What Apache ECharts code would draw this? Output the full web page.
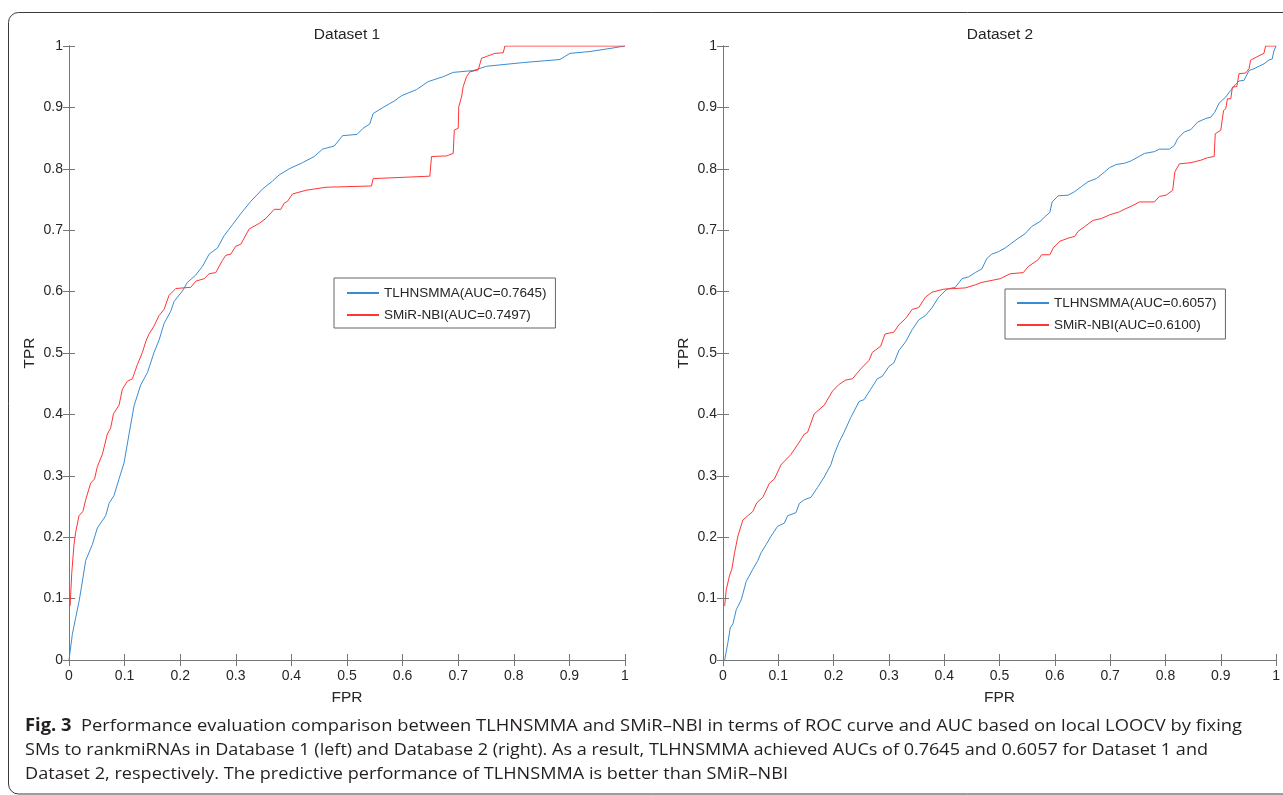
<!DOCTYPE html>
<html>
<head>
<meta charset="utf-8">
<style>
  html, body { margin: 0; padding: 0; background: #fff; }
  #chart { width: 1283px; height: 795px; }
</style>
<script src="https://cdn.jsdelivr.net/npm/echarts@6/dist/echarts.min.js"></script>
</head>
<body>
<div id="chart"></div>
<script>
// ROC points, [FPR, TPR]
const ds1Tlhnsmma = [[0,0],[0.006,0.042],[0.012,0.069],[0.018,0.095],[0.023,0.122],[0.03,0.162],[0.042,0.188],[0.051,0.215],[0.066,0.235],[0.072,0.255],[0.081,0.268],[0.09,0.295],[0.099,0.321],[0.108,0.368],[0.117,0.414],[0.129,0.448],[0.141,0.468],[0.153,0.501],[0.162,0.521],[0.171,0.548],[0.183,0.568],[0.189,0.584],[0.204,0.601],[0.213,0.615],[0.228,0.627],[0.24,0.641],[0.252,0.661],[0.267,0.671],[0.279,0.691],[0.294,0.709],[0.309,0.727],[0.327,0.747],[0.348,0.767],[0.366,0.78],[0.378,0.79],[0.396,0.8],[0.42,0.81],[0.441,0.82],[0.456,0.832],[0.477,0.837],[0.492,0.854],[0.518,0.856],[0.529,0.866],[0.541,0.873],[0.547,0.89],[0.565,0.9],[0.586,0.911],[0.598,0.919],[0.625,0.929],[0.646,0.942],[0.673,0.95],[0.691,0.957],[0.727,0.96],[0.751,0.967],[0.817,0.973],[0.883,0.978],[0.901,0.988],[0.937,0.991],[0.973,0.996],[1,1]];
const ds1SmirNbi = [[0.002,0.088],[0.005,0.142],[0.009,0.188],[0.012,0.208],[0.018,0.235],[0.025,0.242],[0.03,0.261],[0.039,0.288],[0.046,0.295],[0.051,0.315],[0.06,0.335],[0.069,0.368],[0.075,0.378],[0.08,0.401],[0.09,0.415],[0.096,0.441],[0.105,0.454],[0.114,0.458],[0.123,0.481],[0.132,0.501],[0.139,0.521],[0.144,0.531],[0.153,0.544],[0.162,0.561],[0.171,0.571],[0.18,0.594],[0.192,0.605],[0.219,0.607],[0.228,0.617],[0.243,0.621],[0.252,0.629],[0.264,0.631],[0.276,0.651],[0.282,0.659],[0.291,0.661],[0.3,0.674],[0.309,0.677],[0.324,0.702],[0.342,0.711],[0.354,0.719],[0.369,0.734],[0.381,0.734],[0.387,0.744],[0.393,0.747],[0.402,0.759],[0.426,0.765],[0.462,0.77],[0.544,0.772],[0.547,0.784],[0.649,0.788],[0.652,0.82],[0.679,0.821],[0.691,0.825],[0.693,0.863],[0.7,0.866],[0.701,0.901],[0.706,0.917],[0.709,0.934],[0.715,0.95],[0.721,0.958],[0.736,0.961],[0.742,0.98],[0.751,0.983],[0.766,0.988],[0.781,0.989],[0.784,1],[1,1]];
const ds2Tlhnsmma = [[0.003,0],[0.009,0.029],[0.013,0.052],[0.018,0.059],[0.024,0.082],[0.033,0.098],[0.042,0.128],[0.054,0.148],[0.063,0.162],[0.069,0.175],[0.078,0.188],[0.087,0.202],[0.099,0.218],[0.111,0.223],[0.117,0.235],[0.132,0.24],[0.138,0.255],[0.147,0.261],[0.159,0.265],[0.171,0.281],[0.183,0.298],[0.195,0.318],[0.201,0.335],[0.21,0.355],[0.219,0.371],[0.231,0.395],[0.246,0.421],[0.255,0.424],[0.267,0.441],[0.279,0.458],[0.288,0.462],[0.3,0.478],[0.309,0.484],[0.318,0.504],[0.33,0.518],[0.342,0.538],[0.354,0.554],[0.366,0.561],[0.378,0.574],[0.39,0.591],[0.405,0.604],[0.42,0.607],[0.432,0.621],[0.444,0.624],[0.456,0.631],[0.468,0.637],[0.477,0.654],[0.486,0.661],[0.498,0.665],[0.51,0.671],[0.522,0.679],[0.534,0.687],[0.546,0.694],[0.558,0.706],[0.573,0.714],[0.582,0.722],[0.591,0.729],[0.595,0.746],[0.606,0.756],[0.624,0.757],[0.636,0.763],[0.648,0.771],[0.66,0.779],[0.675,0.784],[0.69,0.795],[0.699,0.802],[0.711,0.807],[0.726,0.809],[0.738,0.813],[0.75,0.819],[0.762,0.825],[0.78,0.828],[0.789,0.832],[0.807,0.832],[0.816,0.838],[0.822,0.849],[0.834,0.86],[0.846,0.864],[0.858,0.876],[0.873,0.882],[0.882,0.884],[0.889,0.892],[0.897,0.907],[0.909,0.917],[0.918,0.928],[0.927,0.938],[0.933,0.943],[0.942,0.944],[0.951,0.96],[0.96,0.963],[0.978,0.971],[0.987,0.977],[0.993,0.979],[0.996,0.992],[1,1]];
const ds2SmirNbi = [[0.003,0.088],[0.006,0.115],[0.012,0.138],[0.016,0.148],[0.021,0.175],[0.027,0.202],[0.036,0.228],[0.045,0.235],[0.054,0.242],[0.061,0.256],[0.072,0.265],[0.084,0.288],[0.093,0.295],[0.105,0.318],[0.123,0.335],[0.138,0.355],[0.147,0.368],[0.153,0.371],[0.165,0.401],[0.183,0.415],[0.198,0.438],[0.21,0.449],[0.222,0.456],[0.234,0.458],[0.249,0.474],[0.264,0.488],[0.27,0.501],[0.285,0.511],[0.293,0.531],[0.309,0.534],[0.318,0.546],[0.33,0.556],[0.342,0.571],[0.354,0.574],[0.366,0.591],[0.378,0.599],[0.399,0.604],[0.438,0.606],[0.456,0.611],[0.468,0.615],[0.501,0.621],[0.519,0.629],[0.543,0.631],[0.552,0.641],[0.57,0.652],[0.576,0.66],[0.591,0.66],[0.597,0.671],[0.609,0.682],[0.624,0.687],[0.636,0.69],[0.642,0.698],[0.654,0.706],[0.669,0.716],[0.684,0.719],[0.699,0.725],[0.717,0.73],[0.723,0.733],[0.738,0.739],[0.753,0.746],[0.78,0.746],[0.789,0.755],[0.801,0.757],[0.813,0.765],[0.817,0.795],[0.825,0.808],[0.846,0.81],[0.864,0.814],[0.876,0.818],[0.888,0.82],[0.89,0.857],[0.9,0.863],[0.905,0.895],[0.909,0.898],[0.912,0.914],[0.918,0.914],[0.921,0.933],[0.929,0.934],[0.933,0.955],[0.945,0.956],[0.951,0.963],[0.954,0.977],[0.969,0.984],[0.978,0.988],[0.981,1],[1,1]];

const panelTitles = ['Dataset 1', 'Dataset 2'];
const legend1 = ['TLHNSMMA(AUC=0.7645)', 'SMiR-NBI(AUC=0.7497)'];
const legend2 = ['TLHNSMMA(AUC=0.6057)', 'SMiR-NBI(AUC=0.6100)'];
const captionBold = 'Fig. 3';
const captionLines = [
  'Performance evaluation comparison between TLHNSMMA and SMiR\u2013NBI in terms of ROC curve and AUC based on local LOOCV by fixing',
  'SMs to rankmiRNAs in Database 1 (left) and Database 2 (right). As a result, TLHNSMMA achieved AUCs of 0.7645 and 0.6057 for Dataset 1 and',
  'Dataset 2, respectively. The predictive performance of TLHNSMMA is better than SMiR\u2013NBI'
];

const BLUE = '#3a8cd2';
const RED = '#ff3535';
const AXIS = '#777';
const TEXT = '#262626';
const PLOT_FONT = '"Liberation Sans", Arial, sans-serif';
const CAP_FONT = '"Open Sans", sans-serif';
const CAP_SIZE = 17;

let $chart = echarts.init(document.getElementById('chart'));

// caption font is condensed in the original, squeeze Open Sans line by line to the same width
const mctx = document.createElement('canvas').getContext('2d');
function measure(text, weight) {
  mctx.font = weight + ' ' + CAP_SIZE + 'px ' + CAP_FONT;
  return mctx.measureText(text).width;
}
const lineScale = [
  (1242 - 81) / measure(captionLines[0], 'normal'),
  (1208 - 25) / measure(captionLines[1], 'normal'),
  (788 - 25) / measure(captionLines[2], 'normal')
];

function mainAxes(gridIndex) {
  const common = {
    gridIndex, min: 0, max: 1, interval: 0.1, type: 'value',
    splitLine: { show: false },
    axisLine: { show: true, lineStyle: { color: AXIS, width: 1 } },
    axisTick: { show: true, inside: true, length: 6, lineStyle: { color: AXIS } },
    nameTextStyle: { fontFamily: PLOT_FONT, fontSize: 15.5, color: TEXT },
    axisLabel: { fontFamily: PLOT_FONT, fontSize: 14, color: TEXT }
  };
  return {
    x: [
      { ...common, position: 'bottom', name: 'FPR', nameLocation: 'middle', nameGap: 30,
        axisLabel: { ...common.axisLabel, margin: 9 } },
      { ...common, position: 'top', axisLabel: { show: false } }
    ],
    y: [
      { ...common, position: 'left', name: 'TPR', nameLocation: 'middle', nameGap: 31,
        axisLabel: { ...common.axisLabel, margin: 6 } },
      { ...common, position: 'right', axisLabel: { show: false } }
    ]
  };
}
const ax1 = mainAxes(0);
const ax2 = mainAxes(1);

function roc(name, data, color, axisIndex) {
  return {
    type: 'line', name, data, xAxisIndex: axisIndex, yAxisIndex: axisIndex,
    symbol: 'none', showSymbol: false, animation: false,
    lineStyle: { color, width: 1 }, itemStyle: { color }
  };
}

// line sample only, hide the marker echarts puts on line legends
function legendBox(names, left, top, padding) {
  return {
    data: names, orient: 'vertical', left, top, padding,
    borderColor: '#666', borderWidth: 1, backgroundColor: '#fff',
    itemWidth: 32, itemHeight: 14, itemGap: 8, selectedMode: false,
    itemStyle: { color: 'rgba(0,0,0,0)', borderColor: 'rgba(0,0,0,0)', borderWidth: 0, opacity: 0 },
    textStyle: { fontFamily: PLOT_FONT, fontSize: 13.5, color: TEXT }
  };
}

function captionText(text, x, y, bold, scale) {
  return {
    type: 'text', x, y, scaleX: scale,
    style: {
      text, fill: '#231f20', align: 'left', verticalAlign: 'middle',
      font: (bold ? 'bold ' : '') + CAP_SIZE + 'px ' + CAP_FONT
    }
  };
}

const option = {
  backgroundColor: '#fff',
  animation: false,
  grid: [
    { left: 69, top: 46, width: 556, height: 614 },
    { left: 723, top: 46, width: 555, height: 614 }
  ],
  xAxis: [...ax1.x, ...ax2.x],
  yAxis: [...ax1.y, ...ax2.y],
  legend: [
    legendBox(legend1, 334, 278, [8, 9, 6, 12]),
    legendBox(legend2, 1005, 289, [7, 9, 7, 11])
  ],
  series: [
    roc(legend1[0], ds1Tlhnsmma, BLUE, 0),
    roc(legend1[1], ds1SmirNbi, RED, 0),
    roc(legend2[0], ds2Tlhnsmma, BLUE, 2),
    roc(legend2[1], ds2SmirNbi, RED, 2)
  ],
  graphic: [
    { type: 'rect', shape: { x: 8.5, y: 12.5, width: 1300, height: 781.5, r: 10 },
      style: { fill: 'none', stroke: '#3a3a3a', lineWidth: 1 }, silent: true },
    { type: 'text', x: 347, y: 35, style: { text: panelTitles[0], align: 'center', verticalAlign: 'middle',
      font: '15.5px ' + PLOT_FONT, fill: TEXT } },
    { type: 'text', x: 1000, y: 35, style: { text: panelTitles[1], align: 'center', verticalAlign: 'middle',
      font: '15.5px ' + PLOT_FONT, fill: TEXT } },
    captionText(captionBold, 25, 726, true, lineScale[0]),
    captionText(captionLines[0], 81, 726, false, lineScale[0]),
    captionText(captionLines[1], 25, 750, false, lineScale[1]),
    captionText(captionLines[2], 25, 774, false, lineScale[2])
  ]
};

$chart.setOption(option, true);
</script>
</body>
</html>
